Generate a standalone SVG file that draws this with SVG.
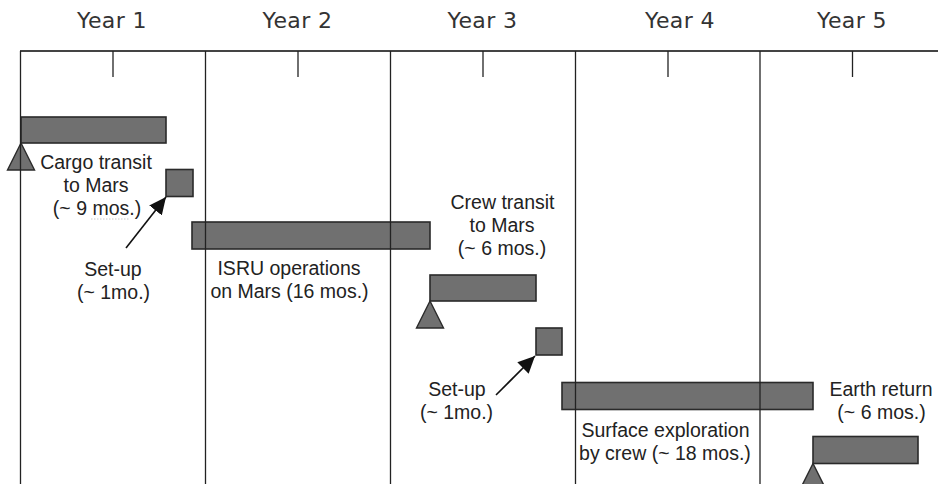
<svg xmlns="http://www.w3.org/2000/svg" width="938" height="484" viewBox="0 0 938 484">
  <style>
    .yr { font-family: "DejaVu Sans", Verdana, sans-serif; font-size: 22px; letter-spacing: 0.4px; fill: #333; text-anchor: middle; }
    .lbl { font-family: "Liberation Sans", Arial, sans-serif; font-size: 19.5px; fill: #222; text-anchor: middle; }
    .grid { stroke: #222; stroke-width: 1.3; fill: none; }
    .head { stroke: #444; stroke-width: 2.2; fill: none; }
    .bar { fill: #707070; stroke: #2a2a2a; stroke-width: 1.6; }
    .tri { fill: #707070; stroke: #2a2a2a; stroke-width: 1.4; }
    .arr { stroke: #111; stroke-width: 1.6; fill: none; marker-end: url(#ah); }
  </style>
  <defs>
    <marker id="ah" markerUnits="userSpaceOnUse" markerWidth="18" markerHeight="16" refX="17" refY="8" orient="auto">
      <path d="M0,0 L17,8 L0,16 Z" fill="#111"/>
    </marker>
  </defs>
  <rect width="938" height="484" fill="#fff"/>

  <g id="bars">
    <g id="cargo"><rect class="bar" x="21" y="117" width="145" height="26"/><polygon class="tri" points="21,143 7.5,170 34.5,170"/></g>
    <g id="setup1"><rect class="bar" x="166" y="169.5" width="27" height="27"/></g>
    <g id="isru"><rect class="bar" x="192" y="222" width="238" height="27"/></g>
    <g id="crew"><rect class="bar" x="430" y="275" width="106" height="26"/><polygon class="tri" points="430,301 416.5,328 443.5,328"/></g>
    <g id="setup2"><rect class="bar" x="536" y="328" width="26" height="27"/></g>
    <g id="surface"><rect class="bar" x="562" y="382.5" width="251" height="27"/></g>
    <g id="earth"><rect class="bar" x="813" y="436.5" width="105" height="27"/><polygon class="tri" points="813,463.5 799.5,490.5 826.5,490.5"/></g>
  </g>

  <g id="timeline">
    <line class="head" x1="20" y1="51" x2="938" y2="51"/>
    <line class="grid" x1="20.5" y1="51" x2="20.5" y2="484"/>
    <line class="grid" x1="205.5" y1="51" x2="205.5" y2="484"/>
    <line class="grid" x1="390.5" y1="51" x2="390.5" y2="484"/>
    <line class="grid" x1="575.5" y1="51" x2="575.5" y2="484"/>
    <line class="grid" x1="760" y1="51" x2="760" y2="484"/>
    <line class="grid" x1="113" y1="51" x2="113" y2="77"/>
    <line class="grid" x1="298" y1="51" x2="298" y2="77"/>
    <line class="grid" x1="483" y1="51" x2="483" y2="77"/>
    <line class="grid" x1="668" y1="51" x2="668" y2="77"/>
    <line class="grid" x1="852.5" y1="51" x2="852.5" y2="77"/>
    <text class="yr" x="112" y="28">Year 1</text>
    <text class="yr" x="297.5" y="28">Year 2</text>
    <text class="yr" x="482.5" y="28">Year 3</text>
    <text class="yr" x="680" y="28">Year 4</text>
    <text class="yr" x="852" y="28">Year 5</text>
  </g>

  <g id="connectors">
    <line class="arr" x1="126" y1="248" x2="166" y2="197"/>
    <line class="arr" x1="496" y1="395" x2="535" y2="356"/>
  </g>

  <g id="labels">
    <text class="lbl" x="96" y="169">Cargo transit</text>
    <text class="lbl" x="96" y="192">to Mars</text>
    <text class="lbl" x="97" y="215">(~ 9 mos.)</text>
    <line x1="91" y1="219" x2="130" y2="219" stroke="#c8c8c8" stroke-width="1" stroke-dasharray="1.5,1.5"/>
    <text class="lbl" x="113" y="276">Set-up</text>
    <text class="lbl" x="113.5" y="299">(~ 1mo.)</text>
    <text class="lbl" x="289" y="275">ISRU operations</text>
    <text class="lbl" x="289.5" y="298">on Mars (16 mos.)</text>
    <text class="lbl" x="502.5" y="209">Crew transit</text>
    <text class="lbl" x="502" y="232">to Mars</text>
    <text class="lbl" x="502" y="255">(~ 6 mos.)</text>
    <text class="lbl" x="457" y="396">Set-up</text>
    <text class="lbl" x="456.5" y="419">(~ 1mo.)</text>
    <text class="lbl" x="665.5" y="437">Surface exploration</text>
    <text class="lbl" x="665" y="460">by crew (~ 18 mos.)</text>
    <text class="lbl" x="881" y="396">Earth return</text>
    <text class="lbl" x="881.5" y="419">(~ 6 mos.)</text>
  </g>
</svg>
